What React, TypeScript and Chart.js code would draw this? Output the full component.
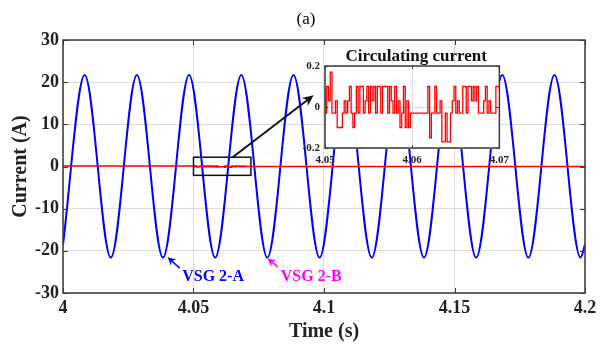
import React, { useEffect, useRef } from 'react';
import { Chart, registerables } from 'chart.js';

Chart.register(...registerables);

// ---------- Main axes ----------
const X_TICKS = [4, 4.05, 4.1, 4.15, 4.2];
const X_TICK_LABELS = ['4', '4.05', '4.1', '4.15', '4.2'];
const Y_TICKS = [-30, -20, -10, 0, 10, 20, 30];
const Y_TICK_LABELS = ['-30', '-20', '-10', '0', '10', '20', '30'];

// ---------- VSG 2-A current: extremum times (s) and values (A) ----------
const VSG_A_TIMES = [
  4.0, 4.0083, 4.0183, 4.0283, 4.0383, 4.0483, 4.0583, 4.0683, 4.0783, 4.0883, 4.0983,
  4.1083, 4.1183, 4.1283, 4.1383, 4.1483, 4.1583, 4.1683, 4.1783, 4.1883, 4.1983, 4.2,
];
const VSG_A_VALUES = [
  -18.5, 21.7, -21.6, 21.7, -21.6, 21.7, -21.6, 21.7, -21.6, 21.7, -21.6,
  21.7, -21.6, 21.7, -21.6, 21.7, -21.6, 21.7, -21.6, 21.7, -21.6, -18.5,
];

// ---------- Circulating current (inset), sampled every 0.2 ms from 4.05 s ----------
const CIRC_START = 4.05;
const CIRC_SAMPLE = 0.0002;
const CIRC_VALUES = [
  0.1, -0.03, 0.1, 0.03, 0.17, -0.03, -0.03, 0.03, -0.1, -0.1,
  -0.1, -0.03, 0.03, -0.03, 0.03, 0.1, -0.03, -0.1, -0.03, 0.1,
  -0.03, 0.1, 0.1, -0.03, 0.03, 0.1, -0.03, 0.1, 0.03, 0.1,
  -0.03, 0.1, 0.1, -0.03, 0.1, 0.1, 0.1, -0.03, 0.1, 0.03,
  -0.03, 0.1, -0.03, 0.03, -0.1, -0.03, 0.1, -0.1, 0.03, -0.1,
  -0.03, -0.03, -0.03, -0.03, -0.03, -0.03, -0.03, -0.03, -0.03, -0.03,
  0.1, -0.15, -0.03, -0.03, 0.1, -0.03, -0.03, 0.03, -0.17, -0.17,
  -0.03, -0.17, -0.17, -0.03, 0.03, 0.1, -0.03, 0.03, -0.03, -0.03,
  0.1, 0.1, -0.03, 0.1, 0.1, 0.03, 0.1, 0.03, 0.1, -0.03,
  -0.03, -0.03, 0.03, 0.1, -0.03, 0.03, -0.03, -0.03, -0.03, 0.1,
  0.1,
];

// ---------- Inset axes ----------
const INSET_X_TICKS = [4.05, 4.06, 4.07];
const INSET_X_LABELS = ['4.05', '4.06', '4.07'];
const INSET_Y_TICKS = [-0.2, 0, 0.2];
const INSET_Y_LABELS = ['-0.2', '0', '0.2'];

// ---------- Annotations (data coordinates) ----------
const ZOOM_BOX = { x0: 4.05, x1: 4.072, y0: -2.1, y1: 2.2 };
const ZOOM_ARROW = { x0: 4.065, y0: 2.2, x1: 4.096, y1: 16.9 };
const LABELS = [
  { text: 'VSG 2-A', color: '#0000ff', x: 4.0575, y: -26.2, ax0: 4.0447, ay0: -24.1, ax1: 4.0401, ay1: -21.5 },
  { text: 'VSG 2-B', color: '#ff00ff', x: 4.0951, y: -26.2, ax0: 4.0823, ay0: -23.8, ax1: 4.0784, ay1: -21.8 },
];

const SERIF = '"Liberation Serif", "Times New Roman", serif';
const AXIS_COLOR = '#3a3a3a';
const TEXT_COLOR = '#222222';
const GRID_COLOR = '#dcdcdc';

function circPoints() {
  return CIRC_VALUES.map((v, i) => ({ x: CIRC_START + i * CIRC_SAMPLE, y: v }));
}

function drawArrow(ctx: CanvasRenderingContext2D, x1: number, y1: number, x2: number, y2: number,
  color: string, lw: number, head: number, halfW: number) {
  const ang = Math.atan2(y2 - y1, x2 - x1);
  const c = Math.cos(ang), s = Math.sin(ang);
  const bx = x2 - head * c, by = y2 - head * s;
  const nx = x2 - head * 0.7 * c, ny = y2 - head * 0.7 * s;
  ctx.strokeStyle = color;
  ctx.fillStyle = color;
  ctx.lineWidth = lw;
  ctx.beginPath();
  ctx.moveTo(x1, y1);
  ctx.lineTo(nx, ny);
  ctx.stroke();
  ctx.beginPath();
  ctx.moveTo(x2, y2);
  ctx.lineTo(bx + halfW * s, by - halfW * c);
  ctx.lineTo(nx, ny);
  ctx.lineTo(bx - halfW * s, by + halfW * c);
  ctx.closePath();
  ctx.fill();
}

function drawFrame(chart: any, xt: number[], yt: number[], tickLen: number, lw: number) {
  const { ctx, chartArea: a, scales } = chart;
  const x = scales.x, y = scales.y;
  ctx.save();
  ctx.strokeStyle = AXIS_COLOR;
  ctx.lineWidth = 1;
  ctx.beginPath();
  xt.forEach((v) => {
    const p = Math.round(x.getPixelForValue(v)) + 0.5;
    ctx.moveTo(p, a.bottom); ctx.lineTo(p, a.bottom - tickLen);
    ctx.moveTo(p, a.top); ctx.lineTo(p, a.top + tickLen);
  });
  yt.forEach((v) => {
    const p = Math.round(y.getPixelForValue(v)) + 0.5;
    ctx.moveTo(a.left, p); ctx.lineTo(a.left + tickLen, p);
    ctx.moveTo(a.right, p); ctx.lineTo(a.right - tickLen, p);
  });
  ctx.stroke();
  ctx.lineWidth = lw;
  ctx.strokeRect(a.left, a.top, a.right - a.left, a.bottom - a.top);
  ctx.restore();
}

const mainDecor = {
  id: 'mainDecor',
  afterDatasetsDraw(chart: any) {
    const { ctx, scales } = chart;
    const x = scales.x, y = scales.y;
    drawFrame(chart, X_TICKS, Y_TICKS, 5, 1.5);
    ctx.save();
    // zoom rectangle
    const rx0 = x.getPixelForValue(ZOOM_BOX.x0), rx1 = x.getPixelForValue(ZOOM_BOX.x1);
    const ry0 = y.getPixelForValue(ZOOM_BOX.y1), ry1 = y.getPixelForValue(ZOOM_BOX.y0);
    ctx.strokeStyle = '#111';
    ctx.lineWidth = 1.5;
    ctx.strokeRect(rx0, ry0, rx1 - rx0, ry1 - ry0);
    // arrow to inset
    drawArrow(ctx, x.getPixelForValue(ZOOM_ARROW.x0), y.getPixelForValue(ZOOM_ARROW.y0),
      x.getPixelForValue(ZOOM_ARROW.x1), y.getPixelForValue(ZOOM_ARROW.y1), '#111', 2, 11, 5);
    // labels
    ctx.font = `bold 16px ${SERIF}`;
    ctx.textAlign = 'center';
    ctx.textBaseline = 'middle';
    LABELS.forEach((l) => {
      drawArrow(ctx, x.getPixelForValue(l.ax0), y.getPixelForValue(l.ay0),
        x.getPixelForValue(l.ax1), y.getPixelForValue(l.ay1), l.color, 1.5, 8, 4);
      ctx.fillStyle = l.color;
      ctx.fillText(l.text, x.getPixelForValue(l.x), y.getPixelForValue(l.y));
    });
    // figure title
    ctx.fillStyle = '#000';
    ctx.font = `17px ${SERIF}`;
    ctx.fillText('(a)', 306, 20);
    ctx.restore();
  },
};

const insetDecor = {
  id: 'insetDecor',
  beforeDraw(chart: any) {
    const { ctx, chartArea: a } = chart;
    ctx.save();
    ctx.fillStyle = '#ffffff';
    ctx.fillRect(a.left, a.top, a.right - a.left, a.bottom - a.top);
    ctx.restore();
  },
  afterDatasetsDraw(chart: any) {
    const { ctx, chartArea: a } = chart;
    drawFrame(chart, INSET_X_TICKS, INSET_Y_TICKS, 3, 1.5);
    ctx.save();
    ctx.fillStyle = '#111';
    ctx.font = `bold 17px ${SERIF}`;
    ctx.textAlign = 'center';
    ctx.textBaseline = 'middle';
    ctx.fillText('Circulating current', (a.left + a.right) / 2 + 4, 17);
    ctx.restore();
  },
};

function mainConfig(): any {
  return {
    type: 'line',
    data: {
      datasets: [
        {
          label: 'Circulating current',
          data: [{ x: 4, y: 0 }, ...circPoints(), { x: 4.2, y: 0 }],
          borderColor: '#ff0000',
          borderWidth: 1.5,
          pointRadius: 0,
          tension: 0,
          stepped: 'after',
        },
        {
          label: 'VSG 2-A',
          data: VSG_A_TIMES.map((t, i) => ({ x: t, y: VSG_A_VALUES[i] })),
          borderColor: '#0000ff',
          borderWidth: 2,
          pointRadius: 0,
          cubicInterpolationMode: 'monotone',
        },
      ],
    },
    options: {
      animation: false,
      responsive: false,
      maintainAspectRatio: false,
      events: [],
      layout: { padding: { left: 0, right: 28, top: 40, bottom: 0 } },
      plugins: { legend: { display: false }, tooltip: { enabled: false }, title: { display: false } },
      scales: {
        x: {
          type: 'linear',
          min: 4,
          max: 4.2,
          afterBuildTicks: (s: any) => { s.ticks = X_TICKS.map((value) => ({ value })); },
          afterFit: (s: any) => { s.height = 55; },
          ticks: {
            callback: (_v: any, i: number) => X_TICK_LABELS[i],
            font: { family: SERIF, size: 18, weight: 'bold' },
            color: TEXT_COLOR,
            padding: 5,
            maxRotation: 0,
            autoSkip: false,
          },
          grid: { color: GRID_COLOR, lineWidth: 1, drawTicks: false },
          border: { display: false },
          title: {
            display: true,
            text: 'Time (s)',
            font: { family: SERIF, size: 20, weight: 'bold' },
            color: TEXT_COLOR,
            padding: { top: 0, bottom: 4 },
          },
        },
        y: {
          type: 'linear',
          min: -30,
          max: 30,
          afterBuildTicks: (s: any) => { s.ticks = Y_TICKS.map((value) => ({ value })); },
          afterFit: (s: any) => { s.width = 63; },
          ticks: {
            callback: (_v: any, i: number) => Y_TICK_LABELS[i],
            font: { family: SERIF, size: 18, weight: 'bold' },
            color: TEXT_COLOR,
            padding: 4,
            autoSkip: false,
          },
          grid: { color: GRID_COLOR, lineWidth: 1, drawTicks: false },
          border: { display: false },
          title: {
            display: true,
            text: 'Current (A)',
            font: { family: SERIF, size: 20, weight: 'bold' },
            color: TEXT_COLOR,
            padding: { top: 9, bottom: 0 },
          },
        },
      },
    },
    plugins: [mainDecor],
  };
}

function insetConfig(): any {
  return {
    type: 'line',
    data: {
      datasets: [
        {
          label: 'Circulating current',
          data: circPoints(),
          borderColor: '#ff0000',
          borderWidth: 1.3,
          pointRadius: 0,
          tension: 0,
          stepped: 'after',
        },
      ],
    },
    options: {
      animation: false,
      responsive: false,
      maintainAspectRatio: false,
      events: [],
      layout: { padding: { left: 0, right: 12, top: 26, bottom: 0 } },
      plugins: { legend: { display: false }, tooltip: { enabled: false } },
      scales: {
        x: {
          type: 'linear',
          min: 4.05,
          max: 4.07,
          afterBuildTicks: (s: any) => { s.ticks = INSET_X_TICKS.map((value) => ({ value })); },
          afterFit: (s: any) => { s.height = 27; },
          ticks: {
            callback: (_v: any, i: number) => INSET_X_LABELS[i],
            font: { family: SERIF, size: 11, weight: 'bold' },
            color: TEXT_COLOR,
            padding: 6,
            maxRotation: 0,
            autoSkip: false,
          },
          grid: { color: GRID_COLOR, lineWidth: 1, drawTicks: false },
          border: { display: false },
        },
        y: {
          type: 'linear',
          min: -0.2,
          max: 0.2,
          afterBuildTicks: (s: any) => { s.ticks = INSET_Y_TICKS.map((value) => ({ value })); },
          afterFit: (s: any) => { s.width = 45; },
          ticks: {
            callback: (_v: any, i: number) => INSET_Y_LABELS[i],
            font: { family: SERIF, size: 11, weight: 'bold' },
            color: TEXT_COLOR,
            padding: 5,
            autoSkip: false,
          },
          grid: { color: GRID_COLOR, lineWidth: 1, drawTicks: false },
          border: { display: false },
        },
      },
    },
    plugins: [insetDecor],
  };
}

export default function App() {
  const mainRef = useRef<HTMLCanvasElement>(null);
  const insetRef = useRef<HTMLCanvasElement>(null);

  useEffect(() => {
    const main = new Chart(mainRef.current as HTMLCanvasElement, mainConfig());
    const inset = new Chart(insetRef.current as HTMLCanvasElement, insetConfig());
    return () => {
      main.destroy();
      inset.destroy();
    };
  }, []);

  return (
    <div style={{ position: 'absolute', left: 0, top: 0, width: 613, height: 348, background: '#ffffff', overflow: 'hidden' }}>
      <canvas ref={mainRef} width={613} height={348}
        style={{ position: 'absolute', left: 0, top: 0, width: 613, height: 348 }} />
      <canvas ref={insetRef} width={235} height={135}
        style={{ position: 'absolute', left: 280, top: 40, width: 235, height: 135 }} />
    </div>
  );
}
